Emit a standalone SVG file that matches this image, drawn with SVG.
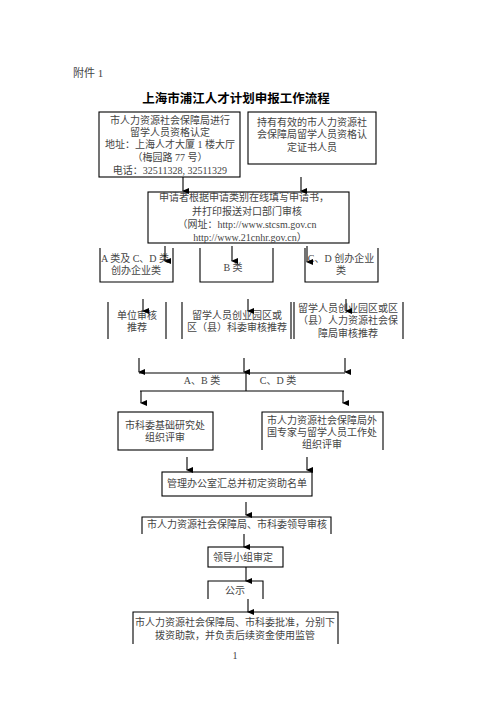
<svg xmlns="http://www.w3.org/2000/svg" width="496" height="702" viewBox="0 0 496 702">
<style>
text{font-family:"Liberation Serif","Noto Sans CJK SC",serif;font-size:10px;fill:#444;text-anchor:middle;dominant-baseline:central}
.b{fill:none;stroke:#000;stroke-width:1.1}
.c line,.c path{stroke:#000;stroke-width:1.1;fill:none}
</style>
<defs>
<marker id="ah" markerWidth="6" markerHeight="7" refX="3" refY="6" orient="auto" markerUnits="userSpaceOnUse" viewBox="0 0 6 7">
<path d="M0,0 L6,0 L3,7 Z" fill="#000"/>
</marker>
</defs>
<rect width="496" height="702" fill="#fff"/>
<text x="73" y="73" style="text-anchor:start;font-size:11px">附件 1</text>
<text x="236" y="99" style="font-size:12.5px;font-weight:bold;fill:#000">上海市浦江人才计划申报工作流程</text>

<g id="n1"><rect class="b" x="99" y="112" width="141" height="65"/>
<text x="170" y="120">市人力资源社会保障局进行</text><text x="170" y="132">留学人员资格认定</text><text x="170" y="144">地址：上海人才大厦 1 楼大厅</text><text x="170" y="157">（梅园路 77 号）</text><text x="170" y="170">电话：32511328, 32511329</text></g>
<g id="n2"><rect class="b" x="248" y="112" width="128" height="52"/>
<text x="312" y="122">持有有效的市人力资源社</text><text x="312" y="134">会保障局留学人员资格认</text><text x="312" y="147">定证书人员</text></g>
<g id="n3"><rect class="b" x="148" y="192" width="201" height="51"/>
<text x="244" y="197">申请者根据申请类别在线填写申请书，</text><text x="247" y="211">并打印报送对口部门审核</text><text x="247" y="224">（网址：http://www.stcsm.gov.cn</text><text x="250" y="237">http://www.21cnhr.gov.cn）</text></g>
<g id="n4"><path class="b" d="M100,248 V282 H173 V248"/><text x="135" y="258">A 类及 C、D 类</text><text x="136" y="270">创办企业类</text></g>
<g id="n5"><path class="b" d="M200,248 V282 H273 V248"/><text x="233" y="267">B 类</text></g>
<g id="n6"><path class="b" d="M305,248 V282 H378 V248"/><text x="341" y="258">C、D 创办企业</text><text x="341" y="270">类</text></g>
<g id="n7"><path class="b" d="M108,302 V339 M166,302 V339"/><text x="137" y="315">单位审核</text><text x="137" y="327">推荐</text></g>
<g id="n8"><path class="b" d="M182,302 V339 M291,302 V339"/><text x="237" y="315">留学人员创业园区或</text><text x="237" y="327">区（县）科委审核推荐</text></g>
<g id="n9"><path class="b" d="M294,302 V339 M403,302 V339"/><text x="348" y="308">留学人员创业园区或区</text><text x="348" y="320">（县）人力资源社会保</text><text x="348" y="333">障局审核推荐</text></g>
<g id="n10"><rect class="b" x="118" y="412" width="95" height="38"/><text x="165" y="425">市科委基础研究处</text><text x="165" y="437">组织评审</text></g>
<g id="n11"><path class="b" d="M262,450 V412 H383 V450"/><text x="322" y="420">市人力资源社会保障局外</text><text x="322" y="432">国专家与留学人员工作处</text><text x="322" y="444">组织评审</text></g>
<g id="n12"><rect class="b" x="162" y="472" width="150" height="24"/><text x="237" y="483">管理办公室汇总并初定资助名单</text></g>
<g id="n13"><path class="b" d="M142,534 V517 H331 V534"/><text x="237" y="524">市人力资源社会保障局、市科委领导审核</text></g>
<g id="n14"><rect class="b" x="208" y="547" width="75" height="20"/><text x="243" y="557">领导小组审定</text></g>
<g id="n15"><path class="b" d="M208,599 V581 H263 V599"/><text x="235" y="590">公示</text></g>
<g id="n16"><path class="b" d="M133,644 V612 H338 V644"/><text x="235" y="622">市人力资源社会保障局、市科委批准，分别下</text><text x="235" y="635">拨资助款，并负责后续资金使用监管</text></g>
<text x="235" y="655" style="font-size:10px">1</text>

<g id="connectors" class="c">
<line x1="183" y1="177" x2="183" y2="191" marker-end="url(#ah)"/>
<line x1="301" y1="177" x2="301" y2="191" marker-end="url(#ah)"/>
<line x1="165" y1="246" x2="165" y2="261" marker-end="url(#ah)"/>
<line x1="232" y1="246" x2="232" y2="261" marker-end="url(#ah)"/>
<line x1="307" y1="246" x2="307" y2="262" marker-end="url(#ah)"/>
<line x1="143" y1="299" x2="143" y2="311" marker-end="url(#ah)"/>
<line x1="248" y1="299" x2="248" y2="311" marker-end="url(#ah)"/>
<line x1="346" y1="299" x2="346" y2="311" marker-end="url(#ah)"/>
<line x1="139" y1="358" x2="139" y2="372" marker-end="url(#ah)"/>
<line x1="244" y1="358" x2="244" y2="372" marker-end="url(#ah)"/>
<line x1="345" y1="358" x2="345" y2="372" marker-end="url(#ah)"/>
<path d="M139,373 H345 M246,373 V391 M140,391 H344"/>
<line x1="141" y1="391" x2="141" y2="403" marker-end="url(#ah)"/>
<line x1="343" y1="391" x2="343" y2="403" marker-end="url(#ah)"/>
<line x1="187" y1="457" x2="187" y2="470" marker-end="url(#ah)"/>
<line x1="307" y1="457" x2="307" y2="470" marker-end="url(#ah)"/>
<line x1="246" y1="502" x2="246" y2="515" marker-end="url(#ah)"/>
<line x1="244" y1="534" x2="244" y2="547" marker-end="url(#ah)"/>
<line x1="246" y1="567" x2="246" y2="581" marker-end="url(#ah)"/>
<line x1="248" y1="599" x2="248" y2="612" marker-end="url(#ah)"/>
</g>
<text x="202" y="380">A、B 类</text>
<text x="278" y="380">C、D 类</text>
</svg>
